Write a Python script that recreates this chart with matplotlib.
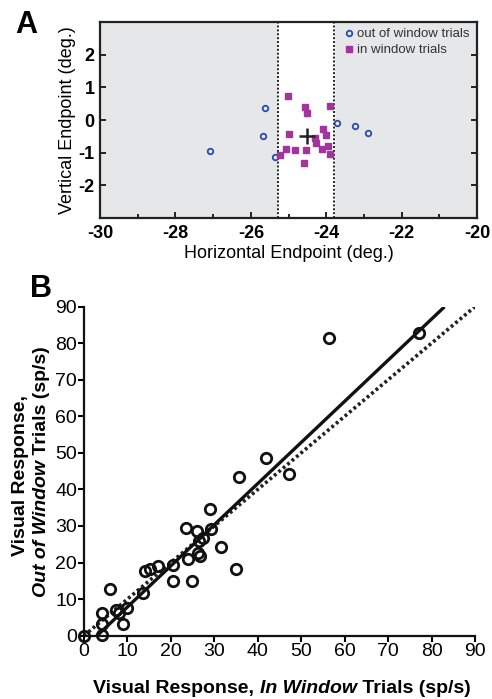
import matplotlib
matplotlib.use("Agg")
import matplotlib.pyplot as plt
from matplotlib.ticker import MultipleLocator

plt.rcParams['font.family'] = ['Liberation Sans', 'DejaVu Sans']

# ---------------- Panel A data ----------------
out_x = [-27.08, -25.63, -25.68, -25.36, -23.71, -23.25, -22.89]
out_y = [-0.94, 0.36, -0.49, -1.13, -0.09, -0.19, -0.41]
in_x = [-25.01, -24.56, -24.51, -23.89, -24.98, -24.09, -24.01, -24.31, -24.28,
        -25.08, -25.23, -24.82, -24.54, -24.12, -23.96, -23.89, -24.58]
in_y = [0.73, 0.39, 0.22, 0.43, -0.42, -0.26, -0.45, -0.54, -0.70,
        -0.89, -1.08, -0.93, -0.93, -0.89, -0.79, -1.04, -1.32]
target = [-24.5, -0.5]
window = [-25.29, -23.79]
a_xticks = [-30, -28, -26, -24, -22, -20]
a_yticks = [-2, -1, 0, 1, 2]

# ---------------- Panel B data ----------------
b_x = [0, 4.1, 4.1, 4.2, 6.0, 7.3, 8.0, 9.8, 8.9, 13.5, 14.0, 15.3, 17.0, 20.4,
       20.4, 24.9, 23.9, 23.5, 25.9, 26.2, 26.8, 26.5, 27.5, 29.2, 29.0, 31.5,
       35.0, 35.7, 42.0, 47.2, 56.4, 77.0]
b_y = [0, 0.2, 3.2, 6.3, 12.7, 7.0, 6.1, 7.6, 3.2, 11.6, 17.6, 18.2, 19.1, 19.4,
       15.0, 15.0, 20.9, 29.5, 28.7, 22.7, 21.8, 26.0, 26.7, 29.1, 34.6, 24.2,
       18.2, 43.5, 48.5, 44.3, 81.5, 82.7]
fit_slope = 1.125
fit_intercept = -3.4
fit_x_range = [3.02, 82.7]
unity_range = [0, 90]
b_ticks = [0, 10, 20, 30, 40, 50, 60, 70, 80, 90]

fig = plt.figure(figsize=(4.92, 6.99), dpi=100)

# ---------------- Panel A ----------------
axA = fig.add_axes([0.2033, 0.6881, 0.7663, 0.2804])
axA.set_facecolor('#e6e7e9')
axA.set_xlim(-30, -20)
axA.set_ylim(-3, 3)
axA.axvspan(window[0], window[1], color='white', zorder=0.5)
for wx in window:
    axA.axvline(wx, color='#222222', lw=1.4, ls=(0, (1, 1)), zorder=1)
axA.plot(out_x, out_y, 'o', ms=4, mfc='none', mec='#2a4ea6', mew=1.3,
         label='out of window trials', zorder=3)
axA.plot(in_x, in_y, 's', ms=5, mfc='#a3339d', mec='#a3339d',
         label='in window trials', zorder=3)
axA.plot(target[0], target[1], '+', ms=11, mew=1.8, color='#222222', zorder=4)
axA.set_xticks(a_xticks)
axA.set_yticks(a_yticks)
axA.set_xticklabels([str(t) for t in a_xticks], fontweight='bold', fontsize=13)
axA.set_yticklabels([str(t) for t in a_yticks], fontweight='bold', fontsize=13)
axA.xaxis.set_minor_locator(MultipleLocator(1))
axA.tick_params(axis='x', which='both', direction='in', top=False, bottom=True,
                length=4, width=1.2, pad=5)
axA.tick_params(axis='y', which='both', direction='in', left=True, right=True,
                length=4, width=1.2, pad=4)
axA.tick_params(axis='x', which='minor', length=3)
for s in axA.spines.values():
    s.set_linewidth(1.6)
    s.set_color('#222222')
axA.set_xlabel('Horizontal Endpoint (deg.)', fontsize=13, labelpad=2)
axA.set_ylabel('Vertical Endpoint (deg.)', fontsize=13, labelpad=2)
leg = axA.legend(loc='upper left', bbox_to_anchor=(0.65, 0.97), frameon=False,
                 fontsize=9.5, handlelength=0.6, handletextpad=0.3, borderpad=0,
                 labelspacing=0.3, borderaxespad=0)
for t in leg.get_texts():
    t.set_color('#333333')
fig.text(0.03, 0.953, 'A', fontsize=22, fontweight='bold', ha='left', va='baseline')

# ---------------- Panel B ----------------
axB = fig.add_axes([0.1707, 0.0906, 0.7947, 0.4707])
axB.set_xlim(0, 90)
axB.set_ylim(0, 90)
axB.plot(unity_range, unity_range, color='#222222', lw=2.6, ls=(0, (0.8, 0.8)), zorder=2)
fx = fit_x_range
fy = [fit_slope * v + fit_intercept for v in fx]
axB.plot(fx, fy, color='#111111', lw=2.4, zorder=2)
axB.plot(b_x, b_y, 'o', ms=7.5, mfc='none', mec='#111111', mew=2.0, zorder=3,
         clip_on=False)
axB.spines['top'].set_visible(False)
axB.spines['right'].set_visible(False)
for s in ['left', 'bottom']:
    axB.spines[s].set_linewidth(1.6)
    axB.spines[s].set_color('#111111')
axB.set_xticks(b_ticks)
axB.set_yticks(b_ticks)
axB.set_xticklabels([str(t) for t in b_ticks], fontsize=14)
axB.set_yticklabels([str(t) for t in b_ticks], fontsize=14)
axB.tick_params(direction='out', length=4, width=1.5, pad=1)
fig.text(0.06, 0.575, 'B', fontsize=22, fontweight='bold', ha='left', va='baseline')


def mixed_text(fig, x, y, parts, rotation=0, fontsize=12, **kw):
    """Draw text pieces with different styles, laid one after another."""
    fig.canvas.draw()
    r = fig.canvas.get_renderer()
    widths = []
    for txt, style in parts:
        t = fig.text(0, 0, txt, fontsize=fontsize, fontweight='bold',
                     fontstyle=style, rotation=rotation)
        bb = t.get_window_extent(renderer=r)
        widths.append(bb.width if rotation == 0 else bb.height)
        t.remove()
    total = sum(widths)
    W, H = fig.bbox.width, fig.bbox.height
    if rotation == 0:
        cur = x * W - total / 2
        for (txt, style), w in zip(parts, widths):
            fig.text(cur / W, y, txt, fontsize=fontsize, fontweight='bold',
                     fontstyle=style, ha='left', va='baseline', **kw)
            cur += w
    else:
        cur = y * H - total / 2
        for (txt, style), w in zip(parts, widths):
            fig.text(x, cur / H, txt, fontsize=fontsize, fontweight='bold',
                     fontstyle=style, rotation=90, ha='left', va='bottom',
                     rotation_mode='anchor', **kw)
            cur += w


mixed_text(fig, 0.573, 0.008,
           [('Visual Response, ', 'normal'), ('In Window', 'italic'),
            (' Trials (sp/s)', 'normal')], fontsize=14)
mixed_text(fig, 0.058, 0.32, [('Visual Response,', 'normal')], rotation=90,
           fontsize=14)
mixed_text(fig, 0.101, 0.326,
           [('Out of Window', 'italic'), (' Trials (sp/s)', 'normal')],
           rotation=90, fontsize=14)

fig.savefig('out.png', dpi=100)
